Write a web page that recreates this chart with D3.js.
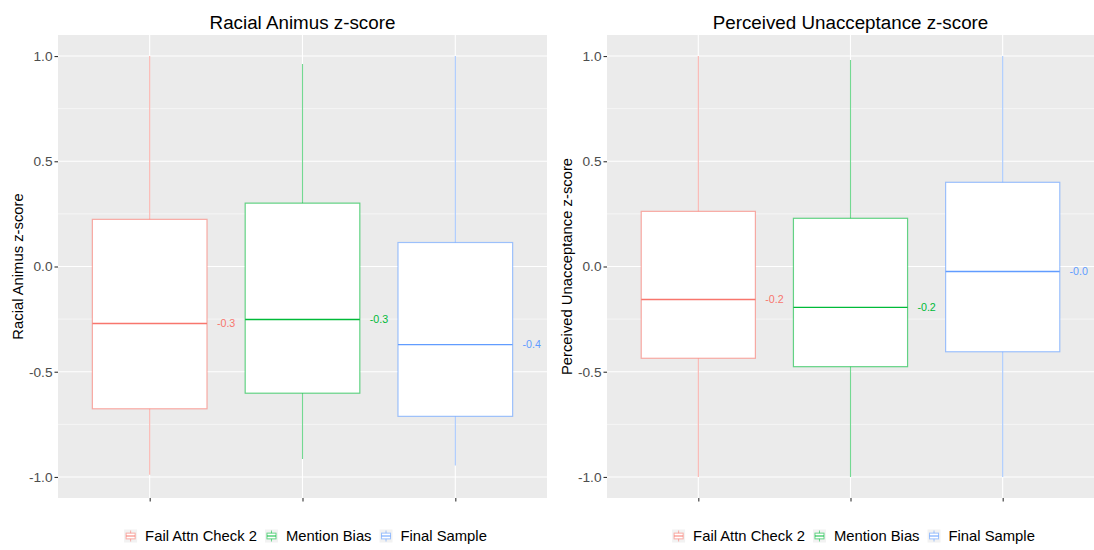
<!DOCTYPE html>
<html>
<head>
<meta charset="utf-8">
<script src="https://cdn.jsdelivr.net/npm/d3@7"></script>
<style>
  body { margin: 0; background: #fff; }
  svg { display: block; font-family: "Liberation Sans", Arial, sans-serif; }
  .tick text { fill: #4d4d4d; font-size: 13.7px; }
  .tick line { stroke: #333; }
</style>
</head>
<body>
<svg id="chart" width="1094" height="550"></svg>
<script>
// Groups and summary stats
const groups = ['Fail Attn Check 2', 'Mention Bias', 'Final Sample']
const yTicks = [-1, -0.5, 0, 0.5, 1]
const yMinor = [-0.75, -0.25, 0.25, 0.75]

// Racial Animus z-score
const animusMin = [-0.99, -0.915, -0.945]
const animusQ1 = [-0.676, -0.602, -0.712]
const animusMed = [-0.271, -0.252, -0.371]
const animusQ3 = [0.224, 0.301, 0.114]
const animusMax = [1.0, 0.962, 1.0]

// Perceived Unacceptance z-score
const unaccMin = [-1.0, -1.0, -1.0]
const unaccQ1 = [-0.436, -0.476, -0.405]
const unaccMed = [-0.157, -0.194, -0.024]
const unaccQ3 = [0.262, 0.229, 0.4]
const unaccMax = [1.0, 0.981, 1.0]

const color = d3.scaleOrdinal()
  .domain(groups)
  .range(['#F8766D', '#00BA38', '#619CFF'])

const svg = d3.select('#chart')

const panels = [
  { title: 'Racial Animus z-score', x0: 58, x1: 547,
    min: animusMin, q1: animusQ1, med: animusMed, q3: animusQ3, max: animusMax },
  { title: 'Perceived Unacceptance z-score', x0: 607, x1: 1094,
    min: unaccMin, q1: unaccQ1, med: unaccMed, q3: unaccQ3, max: unaccMax }
]

const panelTop = 35, panelBottom = 498

panels.forEach(p => drawPanel(p))

function drawPanel(p) {
  let x = d3.scalePoint().domain(groups).range([p.x0, p.x1]).padding(0.6)
  let y = d3.scaleLinear().domain([-1.1, 1.1]).range([panelBottom, panelTop])
  let step = x.step()
  let boxW = step * 0.75

  let g = svg.append('g')

  // background + grid
  g.append('rect')
    .attr('x', p.x0).attr('y', panelTop)
    .attr('width', p.x1 - p.x0).attr('height', panelBottom - panelTop)
    .style('fill', '#EBEBEB')

  g.selectAll('.minor').data(yMinor).enter().append('line')
    .attr('x1', p.x0).attr('x2', p.x1)
    .attr('y1', d => y(d)).attr('y2', d => y(d))
    .style('stroke', '#fff').style('stroke-width', 0.55)

  g.selectAll('.major').data(yTicks).enter().append('line')
    .attr('x1', p.x0).attr('x2', p.x1)
    .attr('y1', d => y(d)).attr('y2', d => y(d))
    .style('stroke', '#fff').style('stroke-width', 1.1)

  g.selectAll('.vmajor').data(groups).enter().append('line')
    .attr('x1', d => x(d)).attr('x2', d => x(d))
    .attr('y1', panelTop).attr('y2', panelBottom)
    .style('stroke', '#fff').style('stroke-width', 1.1)

  // axes
  let ya = g.append('g')
    .attr('transform', 'translate(' + p.x0 + ',0)')
    .call(d3.axisLeft(y).tickValues(yTicks).tickSize(3.5).tickPadding(2)
      .tickFormat(d => d.toFixed(1)))
  ya.select('.domain').remove()
  ya.selectAll('.tick line').style('stroke', '#333').style('stroke-width', 1.1)

  let xa = g.append('g')
    .attr('transform', 'translate(0,' + panelBottom + ')')
    .call(d3.axisBottom(x).tickSize(3.5).tickFormat(''))
  xa.select('.domain').remove()
  xa.selectAll('.tick line').style('stroke', '#333').style('stroke-width', 1.1)

  // boxes
  groups.forEach((grp, i) => {
    let cx = x(grp)
    let c = color(grp)
    let bg = g.append('g')

    bg.append('line')
      .attr('x1', cx).attr('x2', cx)
      .attr('y1', y(p.max[i])).attr('y2', y(p.min[i]))
      .style('stroke', c).style('stroke-opacity', 0.55).style('stroke-width', 1.1)

    bg.append('rect')
      .attr('x', cx - boxW / 2).attr('y', y(p.q3[i]))
      .attr('width', boxW).attr('height', y(p.q1[i]) - y(p.q3[i]))
      .style('fill', '#fff')
      .style('stroke', c).style('stroke-opacity', 0.6).style('stroke-width', 1.2)

    bg.append('line')
      .attr('x1', cx - boxW / 2).attr('x2', cx + boxW / 2)
      .attr('y1', y(p.med[i])).attr('y2', y(p.med[i]))
      .style('stroke', c).style('stroke-width', 1.4)

    bg.append('text')
      .attr('x', cx + step * 0.5)
      .attr('y', y(p.med[i]))
      .attr('dy', '0.35em')
      .attr('text-anchor', 'middle')
      .style('font-size', '10.7px')
      .style('fill', c)
      .text(p.med[i].toFixed(1))
  })

  // title
  svg.append('text')
    .attr('x', (p.x0 + p.x1) / 2).attr('y', 28.5)
    .attr('text-anchor', 'middle')
    .style('font-size', '18.8px')
    .style('fill', '#000')
    .text(p.title)

  // y axis title
  svg.append('text')
    .attr('transform', 'translate(' + (p.x0 - 35) + ',' + ((panelTop + panelBottom) / 2) + ') rotate(-90)')
    .attr('text-anchor', 'middle')
    .style('font-size', '14.8px')
    .style('fill', '#000')
    .text(p.title)

  drawLegend(p)
}

function drawLegend(p) {
  let lg = svg.append('g')
  let keyW = 13, gapKT = 8, gapTK = 8
  let cy = 536
  let items = []
  let xpos = 0
  groups.forEach(grp => {
    let t = lg.append('text')
      .attr('y', cy).attr('dy', '0.35em')
      .style('font-size', '14.8px')
      .style('fill', '#000')
      .text(grp)
    let w = t.node().getComputedTextLength()
    items.push({ grp: grp, t: t, x: xpos, w: w })
    xpos += keyW + gapKT + w + gapTK
  })
  let total = xpos - gapTK
  let start = (p.x0 + p.x1) / 2 + 3 - total / 2

  items.forEach(it => {
    let kx = start + it.x
    let c = color(it.grp)
    let k = lg.append('g').attr('transform', 'translate(' + kx + ',' + (cy - keyW / 2) + ')')
    k.append('rect').attr('width', keyW).attr('height', keyW).style('fill', '#F2F2F2')
    k.append('line')
      .attr('x1', keyW / 2).attr('x2', keyW / 2).attr('y1', 1).attr('y2', keyW - 1)
      .style('stroke', c).style('stroke-opacity', 0.55)
    k.append('rect')
      .attr('x', 2).attr('y', keyW * 0.28).attr('width', keyW - 4).attr('height', keyW * 0.44)
      .style('fill', '#fff').style('stroke', c).style('stroke-opacity', 0.6)
    k.append('line')
      .attr('x1', 2).attr('x2', keyW - 2).attr('y1', keyW / 2).attr('y2', keyW / 2)
      .style('stroke', c)
    it.t.attr('x', kx + keyW + gapKT)
  })
}
</script>
</body>
</html>
